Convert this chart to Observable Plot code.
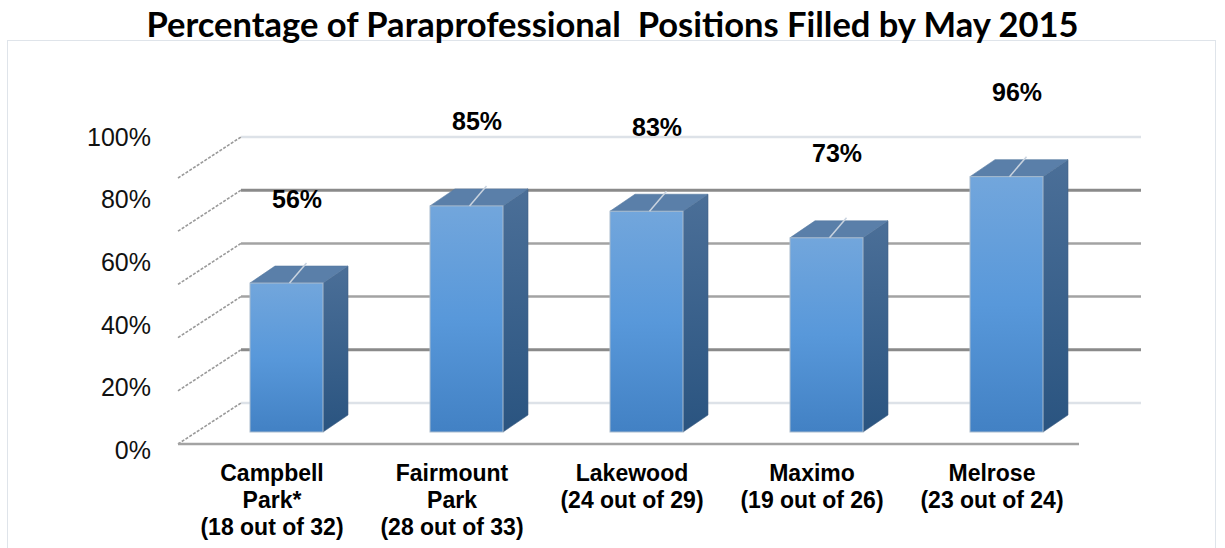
<!DOCTYPE html>
<html><head><meta charset="utf-8">
<script src="https://cdn.jsdelivr.net/npm/d3@7"></script>
<script src="https://cdn.jsdelivr.net/npm/@observablehq/plot@0.6"></script>
<style>
html,body{margin:0;padding:0;background:#fff;}
body{width:1225px;height:548px;position:relative;overflow:hidden;}
#frame{position:absolute;left:7px;top:40px;width:1207px;height:540px;border:1.5px solid #dfe4ea;border-bottom:none;}
#title{position:relative;height:48px;font-family:Lato,"Open Sans",sans-serif;font-weight:700;font-size:34.5px;text-align:center;white-space:pre;line-height:48px;color:#000;}
#chart{position:relative;margin-top:2px;}
</style></head><body>
<div id="frame"></div>
<div id="title">Percentage of Paraprofessional  Positions Filled by May 2015</div>
<div id="chart"></div>
<script>
// ---- data ----
const categories = [
  "Campbell\nPark*\n(18 out of 32)",
  "Fairmount\nPark\n(28 out of 33)",
  "Lakewood\n(24 out of 29)",
  "Maximo\n(19 out of 26)",
  "Melrose\n(23 out of 24)"
];
const percents = [56, 85, 83, 73, 96];
const valueLabels = ["56%", "85%", "83%", "73%", "96%"];
const yTicks = [0, 20, 40, 60, 80, 100];
const yTickLabels = ["0%", "20%", "40%", "60%", "80%", "100%"];

const data = categories.map((c, i) => ({cat: c, value: percents[i], label: valueLabels[i]}));

const DX = 25, DY = -17; // bar depth projection (px)

function defsMark() {
  const svg = d3.create("svg:g");
  const defs = svg.append("defs");
  const f = defs.append("linearGradient").attr("id", "frontGrad").attr("x1", 0).attr("y1", 0).attr("x2", 0).attr("y2", 1);
  f.append("stop").attr("offset", "0%").attr("stop-color", "#72a6dc");
  f.append("stop").attr("offset", "50%").attr("stop-color", "#5898da");
  f.append("stop").attr("offset", "100%").attr("stop-color", "#4281c4");
  const s = defs.append("linearGradient").attr("id", "sideGrad").attr("x1", 0).attr("y1", 0).attr("x2", 0).attr("y2", 1);
  s.append("stop").attr("offset", "0%").attr("stop-color", "#4b6f98");
  s.append("stop").attr("offset", "100%").attr("stop-color", "#2a5480");
  return svg.node();
}

// back wall, left wall and floor
function wallsMark(index, scales, values, dimensions) {
  const x = scales.x, y = scales.y, bw = x.bandwidth();
  const xFirst = x(categories[0]), xLast = x(categories[categories.length - 1]) + bw;
  const g = d3.create("svg:g");
  const style = v => (v === 0 || v === 100) ? ["#dde2e8", 2.5] : (v === 20 || v === 80) ? ["#8a8a8a", 3] : ["#a3a3a3", 2.5];
  for (const v of yTicks) {
    const [c, w] = style(v);
    g.append("line").attr("x1", xFirst - 9).attr("x2", xLast + 98)
      .attr("y1", y(v) - 29).attr("y2", y(v) - 29).attr("stroke", c).attr("stroke-width", w);
    g.append("line").attr("x1", xFirst - 72).attr("y1", y(v) + 12)
      .attr("x2", xFirst - 9).attr("y2", y(v) - 29)
      .attr("stroke", "#9a9a9a").attr("stroke-width", 1.6).attr("stroke-dasharray", "3 1.5");
  }
  g.append("line").attr("x1", xFirst - 72).attr("x2", xLast + 36)
    .attr("y1", y(0) + 12).attr("y2", y(0) + 12).attr("stroke", "#a3a3a3").attr("stroke-width", 2.5);
  return g.node();
}

// slanted value axis: labels run from the front-bottom corner to the back-top corner of the left wall
function axisMark(index, scales, values, dimensions) {
  const x = scales.x, y = scales.y;
  const xr = x(categories[0]) - 99;
  const g = d3.create("svg:g")
    .attr("font-size", 25).attr("fill", "#111").attr("text-anchor", "end");
  yTicks.forEach((v, i) => {
    const t = v / 100;
    const yy = y(v) + (1 - t) * 18 + t * (-29);
    g.append("text").attr("x", xr).attr("y", yy).attr("dy", "0.35em").text(yTickLabels[i]);
  });
  return g.node();
}

// 3D side and top faces
function facesMark(index, scales, values, dimensions) {
  const x = scales.x, y = scales.y, bw = x.bandwidth();
  const g = d3.create("svg:g");
  for (const d of data) {
    const xL = x(d.cat), xR = xL + bw, yT = y(d.value), yB = y(0);
    g.append("polygon")
      .attr("points", [[xR, yT], [xR + DX, yT + DY], [xR + DX, yB + DY], [xR, yB]].join(" "))
      .attr("fill", "url(#sideGrad)").attr("stroke", "#3f5f85").attr("stroke-width", 0.6);
    g.append("polygon")
      .attr("points", [[xL, yT], [xL + DX, yT + DY], [xR + DX, yT + DY], [xR, yT]].join(" "))
      .attr("fill", "#5a7fa9").attr("stroke", "#56799f").attr("stroke-width", 0.6);
  }
  return g.node();
}

// leader lines from bar tops
function leadersMark(index, scales) {
  const x = scales.x, y = scales.y, bw = x.bandwidth();
  const g = d3.create("svg:g");
  for (const d of data) {
    const xc = x(d.cat) + bw / 2 + 3, yT = y(d.value);
    g.append("line").attr("x1", xc).attr("y1", yT).attr("x2", xc + 17).attr("y2", yT - 20)
      .attr("stroke", "#c9d3df").attr("stroke-width", 1.5);
  }
  return g.node();
}

const plot = Plot.plot({
  width: 1225,
  height: 498,
  marginTop: 116,
  marginBottom: 116,
  marginLeft: 249,
  marginRight: 181,
  style: {fontFamily: "'Liberation Sans', Arial, sans-serif", background: "transparent", overflow: "visible"},
  x: {domain: categories, paddingInner: 0.596, paddingOuter: 0, axis: null},
  y: {domain: [0, 100], axis: null},
  marks: [
    defsMark,
    wallsMark,
    axisMark,
    facesMark,
    Plot.barY(data, {x: "cat", y: "value", fill: "url(#frontGrad)", stroke: "#a9bbce", strokeWidth: 1}),
    leadersMark,
    Plot.text(data, {x: "cat", y: () => 0, text: "cat", lineAnchor: "top", dy: 30, dx: -15, fontSize: 23, fontWeight: "bold", lineHeight: 1.16, fill: "#000"}),
    Plot.text(data, {x: "cat", y: "value", text: "label", dx: 10, dy: -84, fontSize: 25, fontWeight: "bold", fill: "#000"})
  ]
});
document.getElementById("chart").appendChild(plot);
</script>
</body></html>
